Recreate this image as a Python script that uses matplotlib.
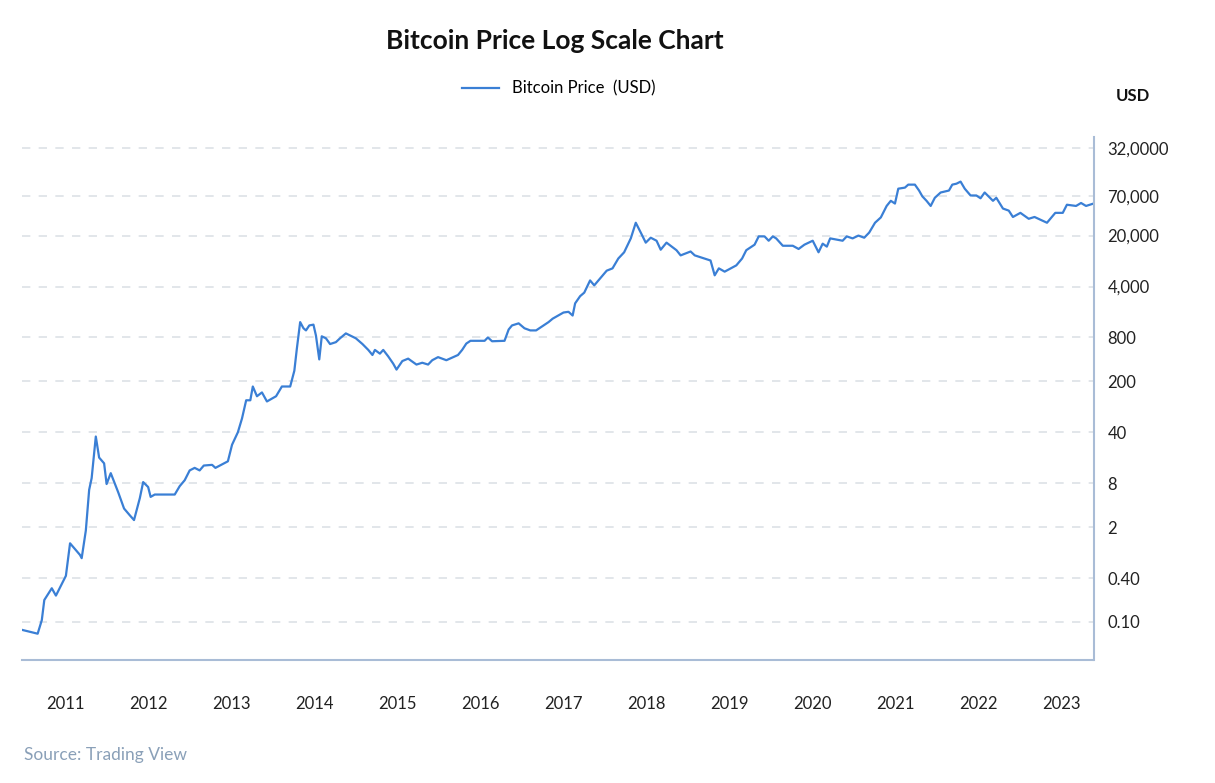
import matplotlib.pyplot as plt
import numpy as np

plt.rcParams["font.family"] = ["Lato", "DejaVu Sans"]

years = [2010.48, 2010.67, 2010.72, 2010.75, 2010.84, 2010.89, 2011.01, 2011.06, 2011.18, 2011.20,
         2011.25, 2011.29, 2011.32, 2011.37, 2011.41, 2011.47, 2011.50, 2011.55, 2011.64, 2011.71,
         2011.78, 2011.83, 2011.90, 2011.94, 2012.00, 2012.03, 2012.08, 2012.32, 2012.38, 2012.44,
         2012.50, 2012.56, 2012.62, 2012.67, 2012.77, 2012.81, 2012.96, 2013.01, 2013.08, 2013.13,
         2013.18, 2013.23, 2013.26, 2013.31, 2013.37, 2013.43, 2013.54, 2013.61, 2013.71, 2013.76,
         2013.79, 2013.83, 2013.87, 2013.90, 2013.94, 2013.99, 2014.02, 2014.06, 2014.09, 2014.14,
         2014.19, 2014.26, 2014.31, 2014.38, 2014.50, 2014.58, 2014.65, 2014.70, 2014.73, 2014.79,
         2014.83, 2014.89, 2014.95, 2014.99, 2015.06, 2015.13, 2015.23, 2015.30, 2015.37, 2015.42,
         2015.49, 2015.59, 2015.73, 2015.78, 2015.83, 2015.88, 2016.05, 2016.09, 2016.14, 2016.29,
         2016.34, 2016.38, 2016.46, 2016.53, 2016.60, 2016.67, 2016.82, 2016.87, 2017.00, 2017.06,
         2017.11, 2017.14, 2017.20, 2017.25, 2017.32, 2017.37, 2017.44, 2017.52, 2017.59, 2017.66,
         2017.73, 2017.81, 2017.87, 2017.93, 2017.99, 2018.05, 2018.12, 2018.17, 2018.24, 2018.36,
         2018.41, 2018.53, 2018.58, 2018.77, 2018.82, 2018.87, 2018.94, 2019.08, 2019.15, 2019.20,
         2019.30, 2019.35, 2019.42, 2019.47, 2019.52, 2019.56, 2019.64, 2019.76, 2019.83, 2019.90,
         2020.00, 2020.07, 2020.12, 2020.17, 2020.21, 2020.36, 2020.41, 2020.48, 2020.55, 2020.62,
         2020.68, 2020.75, 2020.82, 2020.89, 2020.94, 2020.99, 2021.03, 2021.11, 2021.15, 2021.23,
         2021.28, 2021.32, 2021.37, 2021.42, 2021.47, 2021.54, 2021.64, 2021.68, 2021.73, 2021.78,
         2021.83, 2021.90, 2021.97, 2022.02, 2022.07, 2022.17, 2022.21, 2022.29, 2022.36, 2022.41,
         2022.50, 2022.60, 2022.67, 2022.82, 2022.92, 2023.01, 2023.06, 2023.17, 2023.23, 2023.29,
         2023.38]
prices = [0.078, 0.069, 0.106, 0.20, 0.29, 0.23, 0.43, 1.2, 0.83, 0.75,
          1.8, 6.5, 9.4, 35, 18, 15, 7.8, 11, 6, 3.6,
          2.9, 2.5, 5, 8.3, 7.1, 5.2, 5.6, 5.6, 7.3, 8.8,
          12, 13, 12, 14, 14.3, 13, 16, 27, 40, 62,
          110, 110, 170, 125, 141, 106, 125, 170, 170, 280,
          560, 1300, 1070, 1000, 1170, 1200, 850, 400, 830, 780,
          650, 690, 780, 910, 780, 650, 540, 460, 540, 480,
          540, 440, 350, 290, 380, 410, 340, 360, 340, 390,
          430, 390, 460, 540, 660, 720, 720, 800, 710, 720,
          1030, 1170, 1250, 1070, 1000, 1000, 1300, 1450, 1760, 1800,
          1600, 2350, 2950, 3300, 4850, 4150, 5150, 6600, 7100, 9700,
          11800, 18300, 30000, 22000, 16000, 18700, 17000, 12800, 16000, 12600,
          10700, 12100, 10700, 9100, 5700, 7100, 6400, 7800, 9700, 12600,
          15000, 19500, 19500, 17000, 19500, 18300, 14500, 14500, 13100, 15000,
          17000, 11800, 15500, 14100, 18300, 17000, 19500, 18300, 20000, 18700,
          22000, 30000, 35500, 51000, 60000, 55000, 88000, 91000, 100000, 100000,
          83000, 69000, 60000, 51000, 66000, 78000, 83000, 100000, 103000, 110000,
          88000, 71000, 71000, 65000, 78000, 60000, 66000, 47000, 44000, 36000,
          41000, 34000, 36000, 30000, 41000, 41000, 53000, 51000, 56000, 51000,
          55000]

y_ticks = [0.1, 0.4, 2, 8, 40, 200, 800, 4000, 20000, 70000, 320000]
y_labels = ["0.10", "0.40", "2", "8", "40", "200", "800", "4,000", "20,000", "70,000", "32,0000"]
x_ticks = list(range(2011, 2024))

line_color = "#3a7fd5"
axis_color = "#a9bcd6"

fig = plt.figure(figsize=(12.15, 7.83), dpi=100)
ax = fig.add_axes([0.018, 0.157, 0.882, 0.668])
ax.plot(years, prices, color=line_color, lw=1.6, label="Bitcoin Price  (USD)")
ax.set_yscale("log")
ax.set_ylim(0.03, 4.5e5)
ax.set_xlim(2010.48, 2023.38)

ax.yaxis.tick_right()
ax.set_yticks(y_ticks)
ax.set_yticklabels(y_labels)
ax.yaxis.set_minor_locator(plt.NullLocator())
ax.set_xticks(x_ticks)
ax.set_xticklabels([str(y) for y in x_ticks])
ax.tick_params(axis="y", length=0, labelsize=12, colors="#222222", pad=10)
ax.tick_params(axis="x", length=0, labelsize=12, colors="#222222", pad=26)
ax.grid(axis="y", color="#dde1e6", linestyle=(0, (5, 5)), lw=1.2)
ax.grid(axis="x", visible=False)
for s in ["top", "left"]:
    ax.spines[s].set_visible(False)
for s in ["right", "bottom"]:
    ax.spines[s].set_color(axis_color)
    ax.spines[s].set_linewidth(1.5)

fig.text(0.457, 0.948, "Bitcoin Price Log Scale Chart", ha="center", va="center",
         fontsize=19, fontweight="bold", color="#111111")
fig.legend(loc="center", bbox_to_anchor=(0.46, 0.887), frameon=False, fontsize=12,
           handlelength=2.2)
fig.text(0.918, 0.878, "USD", ha="left", va="center", fontsize=12, fontweight="bold",
         color="#111111")
fig.text(0.02, 0.036, "Source: Trading View", ha="left", va="center", fontsize=12.5,
         color="#8aa0b8")

fig.savefig("out.png", dpi=100)
